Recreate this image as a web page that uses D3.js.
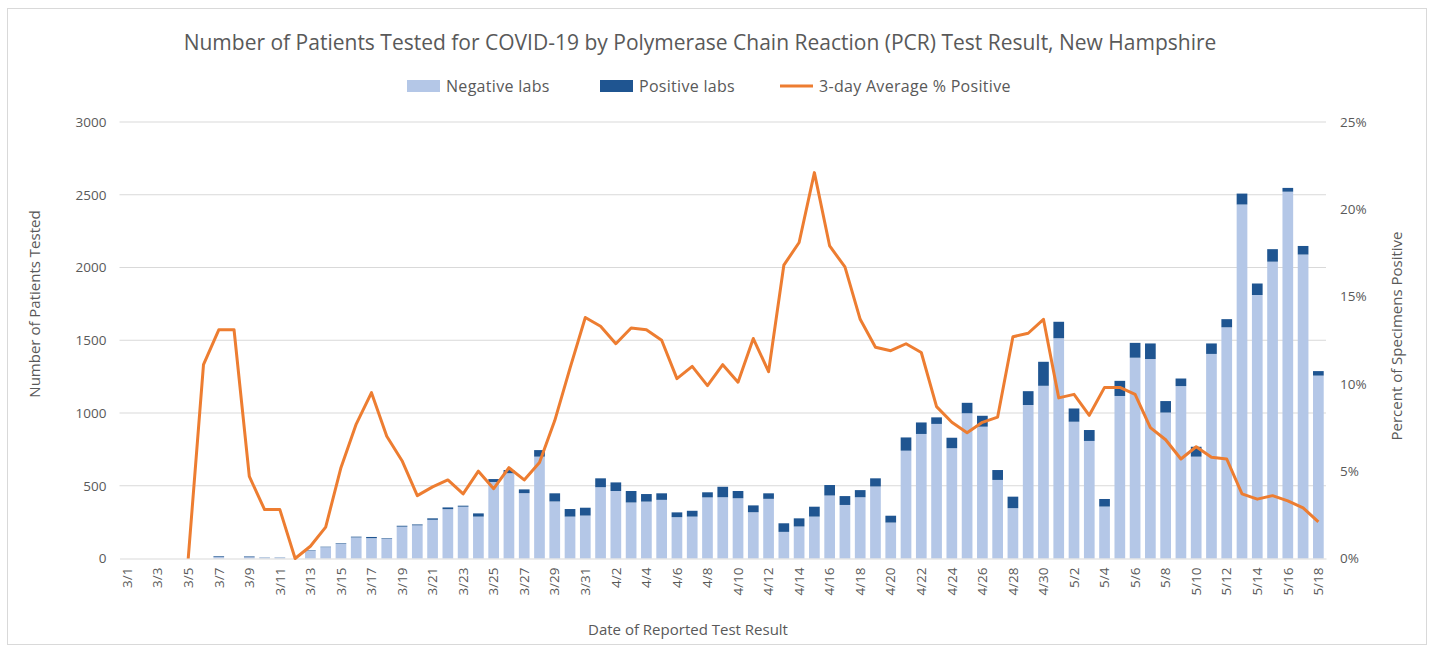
<!DOCTYPE html>
<html>
<head>
<meta charset="utf-8">
<script src="https://cdn.jsdelivr.net/npm/d3@7"></script>
<style>
  body { margin: 0; background: #fff; }
  text { font-family: "Open Sans", sans-serif; fill: #595959; }
</style>
</head>
<body>
<svg width="1432" height="651"></svg>
<script>
const dates = [
  "3/1","3/2","3/3","3/4","3/5","3/6","3/7","3/8","3/9","3/10","3/11","3/12","3/13","3/14","3/15","3/16",
  "3/17","3/18","3/19","3/20","3/21","3/22","3/23","3/24","3/25","3/26","3/27","3/28","3/29","3/30","3/31",
  "4/1","4/2","4/3","4/4","4/5","4/6","4/7","4/8","4/9","4/10","4/11","4/12","4/13","4/14","4/15",
  "4/16","4/17","4/18","4/19","4/20","4/21","4/22","4/23","4/24","4/25","4/26","4/27","4/28","4/29","4/30",
  "5/1","5/2","5/3","5/4","5/5","5/6","5/7","5/8","5/9","5/10","5/11","5/12","5/13","5/14","5/15","5/16","5/17","5/18"
];

const negativeLabs = [
  0, 0, 0, 0, 0, 0, 10, 0, 9, 7, 7, 0, 55, 78, 100, 145,
  140, 135, 219, 228, 266, 339, 356, 288, 526, 586, 449, 700, 392, 288, 295,
  490, 464, 385, 391, 403, 284, 288, 420, 421, 414, 318, 410, 183, 220, 288,
  433, 368, 421, 495, 247, 741, 856, 925, 758, 998, 906, 540, 346, 1055, 1187,
  1514, 940, 808, 357, 1117, 1380, 1371, 1003, 1185, 700, 1406, 1589, 2433, 1811, 2040, 2521, 2089, 1257
];

const positiveLabs = [
  0, 0, 0, 0, 0, 0, 5, 0, 5, 1, 1, 0, 3, 3, 4, 5,
  8, 4, 6, 6, 10, 12, 7, 22, 20, 22, 26, 45, 56, 52, 54,
  61, 59, 79, 52, 45, 33, 40, 35, 72, 50, 47, 38, 59, 56, 68,
  72, 61, 49, 56, 47, 91, 79, 45, 72, 72, 75, 68, 79, 95, 165,
  113, 91, 75, 52, 104, 102, 107, 79, 52, 68, 72, 56, 75, 79, 86, 26, 59, 31
];

const pctPositive = [
  null, null, null, null, 0, 11.1, 13.1, 13.1, 4.7, 2.8, 2.8, 0, 0.7, 1.8, 5.2, 7.7,
  9.5, 7.0, 5.6, 3.6, 4.1, 4.5, 3.7, 5.0, 4.0, 5.2, 4.5, 5.5, 7.9, 10.9, 13.8,
  13.3, 12.3, 13.2, 13.1, 12.5, 10.3, 11.0, 9.9, 11.1, 10.1, 12.6, 10.7, 16.8, 18.1, 22.1,
  17.9, 16.7, 13.7, 12.1, 11.9, 12.3, 11.8, 8.7, 7.8, 7.2, 7.8, 8.1, 12.7, 12.9, 13.7,
  9.2, 9.4, 8.2, 9.8, 9.8, 9.4, 7.5, 6.8, 5.7, 6.4, 5.8, 5.7, 3.7, 3.4, 3.6, 3.3, 2.9, 2.1
];

const leftTicks = [0, 500, 1000, 1500, 2000, 2500, 3000];
const rightTicks = [0, 5, 10, 15, 20, 25];

const svg = d3.select("svg");

const margin = {top: 122, right: 106, bottom: 92.5, left: 119.5},
      width = 1432 - margin.left - margin.right,
      height = 651 - margin.top - margin.bottom;

// chart frame
svg.append("rect")
    .attr("x", 7.5).attr("y", 8.5)
    .attr("width", 1419).attr("height", 636)
    .attr("fill", "none")
    .attr("stroke", "#d9d9d9");

const g = svg.append("g")
    .attr("transform", `translate(${margin.left},${margin.top})`);

const table = dates.map((d, i) => ({date: d, negative: negativeLabs[i], positive: positiveLabs[i], pct: pctPositive[i]}));

const x = d3.scaleBand()
    .domain(dates)
    .range([0, width])
    .paddingInner(0.3)
    .paddingOuter(0.15);

const y = d3.scaleLinear().domain([0, 3000]).range([height, 0]);
const yR = d3.scaleLinear().domain([0, 25]).range([height, 0]);

// gridlines
g.selectAll(".grid")
    .data(leftTicks.filter(t => t > 0))
    .enter().append("line")
    .attr("x1", 0).attr("x2", width)
    .attr("y1", d => y(d)).attr("y2", d => y(d))
    .attr("stroke", "#d9d9d9")
    .attr("stroke-width", 1);

// bars
const stack = d3.stack().keys(["negative", "positive"])(table);
const colors = {negative: "#b4c7e7", positive: "#1f5591"};

g.selectAll(".series")
    .data(stack)
    .enter().append("g")
    .attr("fill", d => colors[d.key])
    .selectAll("rect")
    .data(d => d)
    .enter().append("rect")
    .attr("x", d => x(d.data.date))
    .attr("y", d => y(d[1]))
    .attr("width", x.bandwidth())
    .attr("height", d => y(d[0]) - y(d[1]));

// x axis
const xAxis = g.append("g")
    .attr("transform", `translate(0,${height})`)
    .call(d3.axisBottom(x)
        .tickValues(dates.filter((d, i) => i % 2 === 0))
        .tickSize(0));
xAxis.select(".domain").attr("stroke", "#d9d9d9");
xAxis.selectAll("text")
    .attr("transform", "rotate(-90)")
    .attr("x", -9)
    .attr("y", 0)
    .attr("dy", "0.35em")
    .attr("text-anchor", "end")
    .style("font-size", "13.5px")
    .style("font-family", "'Open Sans', sans-serif")
    .attr("fill", "#595959");

// left axis
const yAxis = g.append("g")
    .call(d3.axisLeft(y).tickValues(leftTicks).tickSize(0).tickPadding(13).tickFormat(d3.format("d")));
yAxis.select(".domain").remove();
yAxis.selectAll("text")
    .style("font-size", "13.5px")
    .style("font-family", "'Open Sans', sans-serif")
    .attr("fill", "#595959");

// right axis
const yRAxis = g.append("g")
    .attr("transform", `translate(${width},0)`)
    .call(d3.axisRight(yR).tickValues(rightTicks).tickSize(0).tickPadding(14).tickFormat(d => d + "%"));
yRAxis.select(".domain").remove();
yRAxis.selectAll("text")
    .style("font-size", "13.5px")
    .style("font-family", "'Open Sans', sans-serif")
    .attr("fill", "#595959");

// line
const line = d3.line()
    .defined(d => d.pct !== null)
    .x(d => x(d.date) + x.bandwidth() / 2)
    .y(d => yR(d.pct));

g.append("path")
    .datum(table)
    .attr("fill", "none")
    .attr("stroke", "#ed7d31")
    .attr("stroke-width", 3)
    .attr("stroke-linejoin", "round")
    .attr("d", line);

// titles
svg.append("text")
    .attr("x", 700).attr("y", 50)
    .attr("text-anchor", "middle")
    .style("font-size", "21px")
    .text("Number of Patients Tested for COVID-19 by Polymerase Chain Reaction (PCR) Test Result, New Hampshire");

svg.append("text")
    .attr("x", 688).attr("y", 635)
    .attr("text-anchor", "middle")
    .style("font-size", "15px")
    .text("Date of Reported Test Result");

svg.append("text")
    .attr("transform", "translate(40,304) rotate(-90)")
    .attr("text-anchor", "middle")
    .style("font-size", "15px")
    .text("Number of Patients Tested");

svg.append("text")
    .attr("transform", "translate(1402,336) rotate(-90)")
    .attr("text-anchor", "middle")
    .style("font-size", "15px")
    .text("Percent of Specimens Positive");

// legend
const legend = svg.append("g");
const items = [
  {label: "Negative labs", type: "rect", color: colors.negative, x: 407},
  {label: "Positive labs", type: "rect", color: colors.positive, x: 600},
  {label: "3-day Average % Positive", type: "line", color: "#ed7d31", x: 780}
];
items.forEach(it => {
  if (it.type === "rect") {
    legend.append("rect")
      .attr("x", it.x).attr("y", 80)
      .attr("width", 33).attr("height", 12)
      .attr("fill", it.color);
  } else {
    legend.append("line")
      .attr("x1", it.x).attr("x2", it.x + 33)
      .attr("y1", 86).attr("y2", 86)
      .attr("stroke", it.color)
      .attr("stroke-width", 3);
  }
  legend.append("text")
    .attr("x", it.x + 39).attr("y", 92)
    .style("font-size", "16px")
    .style("letter-spacing", "0.3px")
    .text(it.label);
});
</script>
</body>
</html>
